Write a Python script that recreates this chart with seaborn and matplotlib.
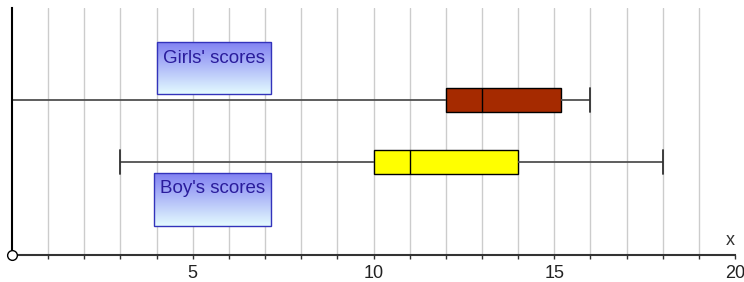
import numpy as np
import pandas as pd
import matplotlib
matplotlib.use("Agg")
import matplotlib.pyplot as plt
from matplotlib.patches import Rectangle
import matplotlib.colors as mcolors
import seaborn as sns

# ---- data ----
groups = ["Girls' scores", "Boy's scores"]
girls_scores = [0, 12, 13, 15.2, 16]   # min, Q1, median, Q3, max
boys_scores = [3, 10, 11, 14, 18]
box_colors = ["#a52a00", "#ffff00"]
x_ticks = [5, 10, 15, 20]
x_label = "x"

df = pd.DataFrame({
    "score": girls_scores + boys_scores,
    "group": [groups[0]] * len(girls_scores) + [groups[1]] * len(boys_scores),
})

sns.set_style("white")
plt.rcParams['font.family'] = ['Liberation Sans', 'DejaVu Sans']

W, H = 744, 282
fig = plt.figure(figsize=(W / 100, H / 100), dpi=100)
ax = fig.add_axes([12 / W, 27 / H, 723 / W, 247 / H])

sns.boxplot(
    data=df, x="score", y="group", hue="group", order=groups, hue_order=groups,
    palette=box_colors, saturation=1, whis=(0, 100), width=0.4, linecolor="black",
    linewidth=1.0, legend=False, showfliers=False, ax=ax,
    medianprops=dict(color="black", lw=1.0),
    whiskerprops=dict(color="#505050", lw=1.3),
    capprops=dict(color="#303030", lw=1.3),
    capwidths=0.4,
)

ax.set_xlim(0, 20)
ax.set_ylim(2.5, -1.484)
ax.set_xlabel("")
ax.set_ylabel("")
ax.set_yticks([])

ax.set_xticks(x_ticks)
ax.set_xticklabels([str(t) for t in x_ticks], fontsize=13, color="#222222")
ax.set_xticks([i for i in range(1, 20) if i not in x_ticks], minor=True)
ax.tick_params(axis="x", which="both", direction="out", length=3, width=1,
               color="#333333", pad=4, bottom=True)
ax.grid(True, which="both", axis="x", color="#cccccc", lw=1.0, zorder=0)
ax.set_axisbelow(True)
for gl, t in zip(ax.get_xgridlines(), x_ticks):
    if t == 20:
        gl.set_visible(False)

for s in ["top", "right"]:
    ax.spines[s].set_visible(False)
ax.spines["left"].set_color("black")
ax.spines["left"].set_linewidth(1.5)
ax.spines["bottom"].set_color("#333333")
ax.spines["bottom"].set_linewidth(1.5)

# origin marker
ax.plot([0], [2.5], marker="o", ms=7, mfc="white", mec="black", mew=1.0,
        clip_on=False, zorder=10)

# axis label
ax.text(19.86, 2.27, x_label, fontsize=13, color="#333333", ha="center", va="center")

# gradient label boxes
top_c = np.array(mcolors.to_rgb("#8282f2"))
bot_c = np.array(mcolors.to_rgb("#e3faff"))
grad = np.linspace(0, 1, 64)[:, None, None]
grad_img = top_c * (1 - grad) + bot_c * grad

label_boxes = [
    (groups[0], (4.0, 7.16, -0.935, -0.097), (5.59, -0.677)),
    (groups[1], (3.94, 7.16, 1.18, 2.03), (5.56, 1.42)),
]
for text, (x0, x1, y0, y1), (tx, ty) in label_boxes:
    ax.imshow(grad_img, extent=(x0, x1, y1, y0), aspect="auto", zorder=3,
              interpolation="bilinear")
    ax.add_patch(Rectangle((x0, y0), x1 - x0, y1 - y0, fill=False,
                           edgecolor="#3333bb", lw=1.0, zorder=4))
    ax.text(tx, ty, text, fontsize=13.5, color="#2a1c9c", ha="center",
            va="center", zorder=5)

ax.set_xlim(0, 20)
ax.set_ylim(2.5, -1.484)

fig.savefig("out.png", dpi=100)
